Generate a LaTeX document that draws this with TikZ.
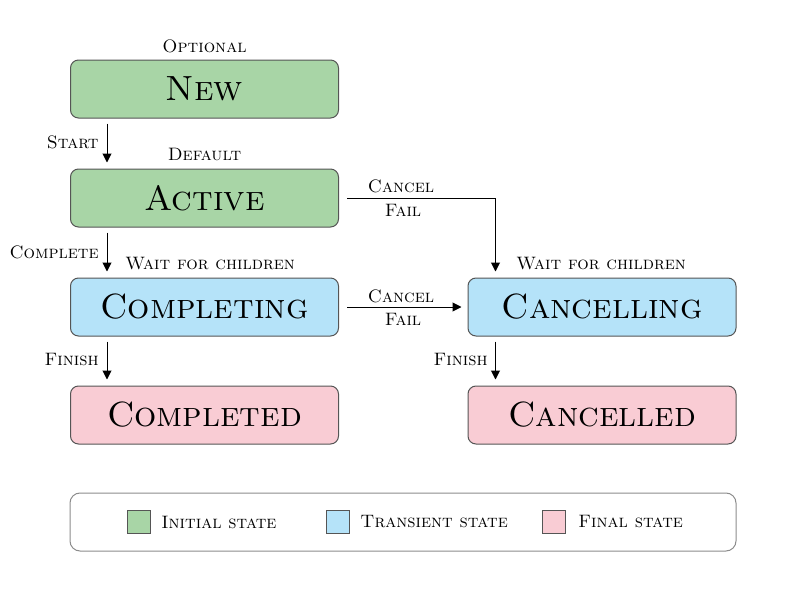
\documentclass[tikz,border=0pt]{standalone}
\usepackage{fontspec}
\usetikzlibrary{arrows.meta}

\definecolor{vertEtat}{HTML}{A8D5A6}
\definecolor{bleuEtat}{HTML}{B5E3F9}
\definecolor{roseEtat}{HTML}{F9CCD4}
\definecolor{bordEtat}{HTML}{555555}

\begin{document}
\begin{tikzpicture}[x=0.5pt, y=-0.5pt,
  etat/.style={draw=bordEtat, line width=0.5pt, rounded corners=4pt,
    minimum width=134pt, minimum height=29pt, inner sep=0pt,
    font=\fontsize{17.5}{20}\selectfont\scshape},
  etiq/.style={font=\fontsize{9}{10}\selectfont\scshape, inner sep=1pt},
  fleche/.style={-{Triangle[length=4.5pt,width=4.5pt]}, line width=0.5pt},
  carre/.style={draw=bordEtat, line width=0.5pt, minimum size=11.5pt, inner sep=0pt}]

% Cadre
\useasboundingbox (0,0) rectangle (800,600);

% Etats
\node[etat, fill=vertEtat] (new) at (204.5,89) {New};
\node[etat, fill=vertEtat] (active) at (204.5,198) {Active};
\node[etat, fill=bleuEtat] (completing) at (204.5,307) {Completing};
\node[etat, fill=roseEtat] (completed) at (204.5,415) {Completed};
\node[etat, fill=bleuEtat] (cancelling) at (602,307) {Cancelling};
\node[etat, fill=roseEtat] (cancelled) at (602,415) {Cancelled};

% Notes au-dessus des etats
\node[etiq] (optional) at (204.5,46) {Optional};
\node[etiq] (default) at (204.5,154) {Default};
\node[etiq, anchor=west] (waitA) at (123,264) {Wait for children};
\node[etiq, anchor=west] (waitB) at (514,264) {Wait for children};

% Transitions
\draw[fleche] ([xshift=18.5pt,yshift=-2.5pt]new.south west)
  -- ([xshift=18.5pt,yshift=3pt]active.north west);
\draw[fleche] ([xshift=18.5pt,yshift=-2.5pt]active.south west)
  -- ([xshift=18.5pt,yshift=3pt]completing.north west);
\draw[fleche] ([xshift=18.5pt,yshift=-2.5pt]completing.south west)
  -- ([xshift=18.5pt,yshift=3pt]completed.north west);
\draw[fleche] ([xshift=14pt,yshift=-2.5pt]cancelling.south west)
  -- ([xshift=14pt,yshift=3pt]cancelled.north west);
\draw[fleche] ([xshift=4pt]active.east)
  -| ([xshift=14pt,yshift=3pt]cancelling.north west);
\draw[fleche] ([xshift=4pt]completing.east) -- ([xshift=-3pt]cancelling.west);

% Etiquettes des transitions
\node[etiq, anchor=east] (start) at (101,142) {Start};
\node[etiq, anchor=east] (complete) at (101,252) {Complete};
\node[etiq, anchor=east] (finishA) at (101,360) {Finish};
\node[etiq, anchor=east] (finishB) at (490,360) {Finish};
\node[etiq] (cancelA) at (401,186) {Cancel};
\node[etiq] (failA) at (403,210) {Fail};
\node[etiq] (cancelB) at (401,296) {Cancel};
\node[etiq] (failB) at (403,319) {Fail};

% Legende
\draw[draw=gray!90, line width=0.5pt, rounded corners=5pt, fill=white]
  (70,493) rectangle (736,551);
\node[carre, fill=vertEtat] (carreV) at (138.5,522) {};
\node[etiq, anchor=west] at (159,522) {Initial state};
\node[carre, fill=bleuEtat] (carreB) at (337.5,522) {};
\node[etiq, anchor=west] at (358,522) {Transient state};
\node[carre, fill=roseEtat] (carreR) at (553.5,522) {};
\node[etiq, anchor=west] at (576,522) {Final state};

\end{tikzpicture}
\end{document}
